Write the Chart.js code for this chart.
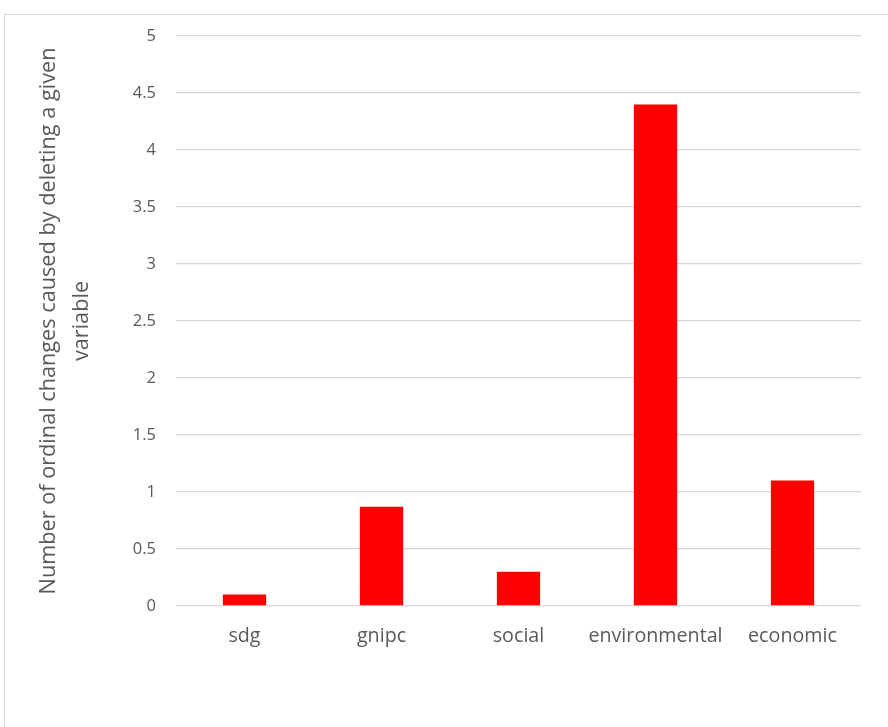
<!DOCTYPE html>
<html>
<head>
<meta charset="utf-8">
<script src="https://cdn.jsdelivr.net/npm/chart.js@4.4.1/dist/chart.umd.min.js"></script>
<style>
  html, body { margin: 0; padding: 0; background: #fff; overflow: hidden; }
  #wrap { position: relative; width: 888px; height: 727px; }
  #frame { position: absolute; left: 4px; top: 14px; width: 1000px; height: 1000px;
           border: 1px solid #d9d9d9; box-sizing: border-box; pointer-events: none; }
  canvas { position: absolute; left: 0; top: 0; }
</style>
</head>
<body>
<div id="wrap">
  <div id="frame"></div>
  <canvas id="chart" width="888" height="727"></canvas>
</div>
<script>
// Variables whose removal was tested
const categories = ['sdg', 'gnipc', 'social', 'environmental', 'economic'];
// Number of ordinal changes when each variable is deleted
const ordinalChanges = [0.1, 0.87, 0.3, 4.4, 1.1];
// Value axis labels
const yTicks = [0, 0.5, 1, 1.5, 2, 2.5, 3, 3.5, 4, 4.5, 5];
const yTitle = ['Number of ordinal changes caused by deleting a given', 'variable'];

const textColor = '#595959';
const gridColor = '#d6d6d6';
const fontFamily = '"Open Sans", "Noto Sans", sans-serif';

new Chart(document.getElementById('chart'), {
  type: 'bar',
  data: {
    labels: categories,
    datasets: [{
      data: ordinalChanges,
      backgroundColor: '#ff0000',
      borderWidth: 0,
      categoryPercentage: 1,
      barPercentage: 0.316
    }]
  },
  options: {
    responsive: false,
    animation: false,
    layout: { padding: { left: 4, right: 27, top: 36, bottom: 0 } },
    plugins: { legend: { display: false }, tooltip: { enabled: false } },
    scales: {
      x: {
        grid: { display: false },
        border: { display: false },
        ticks: {
          color: textColor,
          padding: 11,
          autoSkip: false,
          maxRotation: 0,
          font: { family: fontFamily, size: 19.7 }
        },
        afterFit: (scale) => { scale.height = 121; }
      },
      y: {
        min: 0,
        max: 5,
        afterBuildTicks: (scale) => { scale.ticks = yTicks.map(v => ({ value: v })); },
        grid: { color: gridColor, lineWidth: 1.3, drawTicks: false },
        border: { display: false },
        ticks: {
          color: textColor,
          padding: 20,
          font: { family: fontFamily, size: 16.5 },
          callback: (v) => String(v)
        },
        title: {
          display: true,
          text: yTitle,
          color: textColor,
          padding: { top: 28, bottom: 0 },
          font: { family: fontFamily, size: 21.7, lineHeight: 1.52 }
        },
        afterFit: (scale) => { scale.width = 172; }
      }
    }
  }
});
</script>
</body>
</html>
